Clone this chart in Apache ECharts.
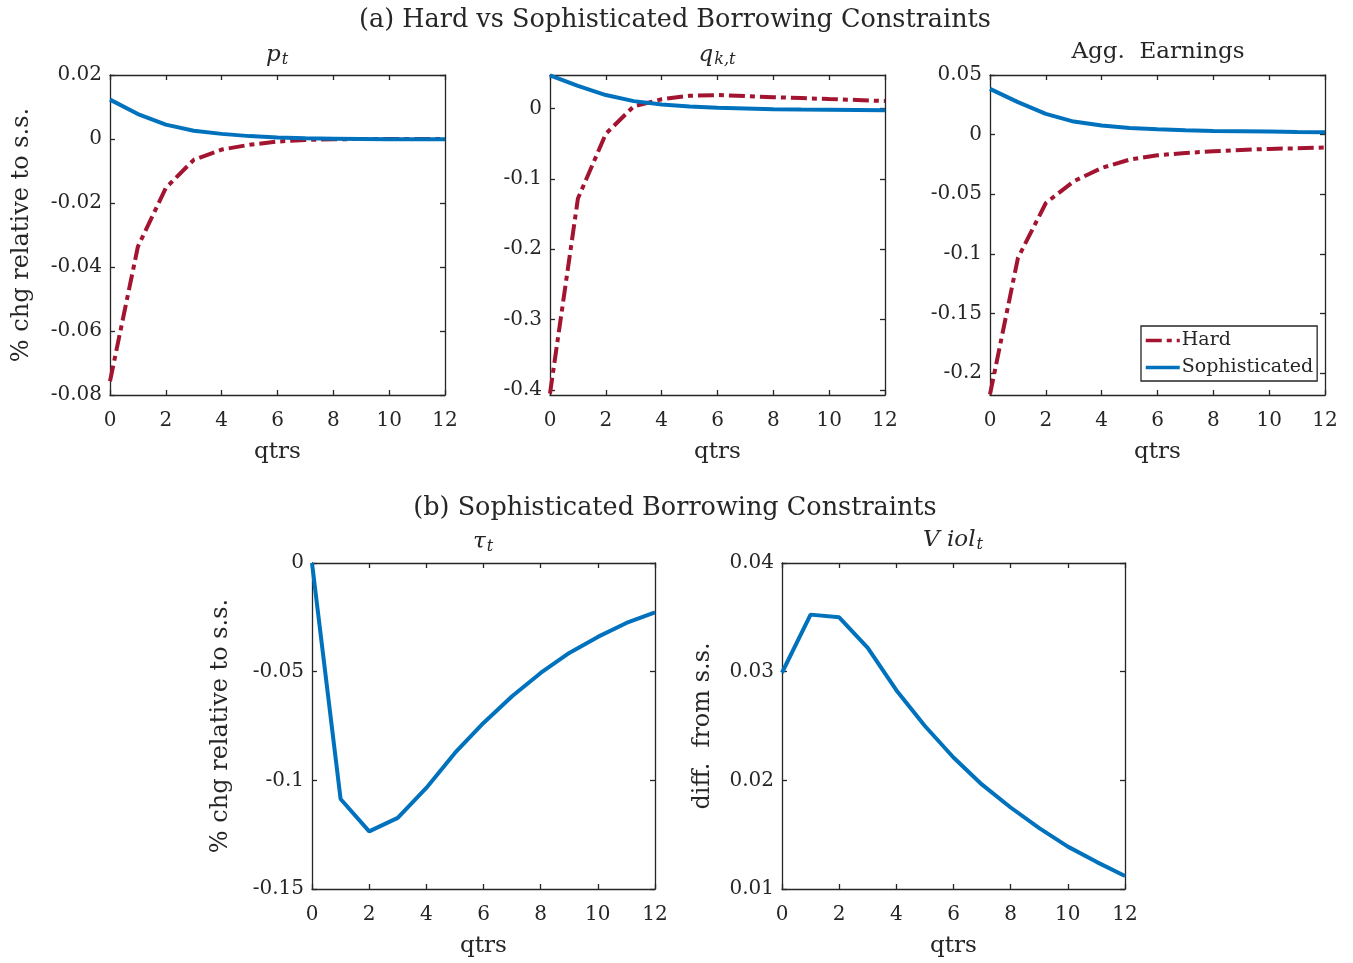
<!DOCTYPE html>
<html>
<head>
<meta charset="utf-8">
<script src="https://cdn.jsdelivr.net/npm/echarts@6/dist/echarts.min.js"></script>
<style>
html,body{margin:0;padding:0;background:#fff;}
#chart{width:1353px;height:963px;}
</style>
</head>
<body>
<div id="chart"></div>
<script>
// ---- data ----
var quarters = [0,1,2,3,4,5,6,7,8,9,10,11,12];

var pHard = [-0.0757,-0.0336,-0.0153,-0.0065,-0.0033,-0.0018,-0.0008,-0.0003,-0.0001,0,0,0,0];
var pSoph = [0.0123,0.0078,0.0045,0.0026,0.0016,0.0009,0.0005,0.0002,0.0001,0,-0.0001,-0.0001,-0.0001];

var qHard = [-0.405,-0.128,-0.036,0.003,0.013,0.018,0.019,0.0175,0.016,0.0147,0.0133,0.012,0.0104];
var qSoph = [0.047,0.032,0.019,0.0104,0.0057,0.0028,0.001,0,-0.001,-0.0015,-0.0018,-0.0021,-0.0024];

var eHard = [-0.218,-0.1036,-0.0574,-0.0392,-0.028,-0.021,-0.0174,-0.0154,-0.014,-0.0129,-0.012,-0.0115,-0.0109];
var eSoph = [0.0384,0.0272,0.0174,0.0109,0.0076,0.0056,0.0045,0.0036,0.0031,0.0028,0.0025,0.0022,0.002];

var tau  = [0,-0.1086,-0.1235,-0.1173,-0.1035,-0.0874,-0.0736,-0.0613,-0.0506,-0.0414,-0.034,-0.0276,-0.0227];
var viol = [0.0299,0.03525,0.035,0.0322,0.0283,0.025,0.0221,0.0196,0.0175,0.0156,0.0139,0.0125,0.0112];

var xTicks  = [0,2,4,6,8,10,12];
var pTicks  = [-0.08,-0.06,-0.04,-0.02,0,0.02];
var qTicks  = [-0.4,-0.3,-0.2,-0.1,0];
var eTicks  = [-0.2,-0.15,-0.1,-0.05,0,0.05];
var tauTicks  = [-0.15,-0.1,-0.05,0];
var violTicks = [0.01,0.02,0.03,0.04];

var seriesNames = ['Hard','Sophisticated'];
var titles = ['(a) Hard vs Sophisticated Borrowing Constraints','(b) Sophisticated Borrowing Constraints'];

// ---- styling ----
var RED = '#A2142F', BLUE = '#0072BD', AX = '#262626';
var FONT = 'DejaVu Serif';
var LW = 4;

function pair(arr){ return quarters.map(function(q,i){ return [q, arr[i]]; }); }
function fmt(v){ var r = Math.round(v*1e6)/1e6; if (r === 0) return '0'; return String(r); }

var grids = [
  {left:110, top:75,  width:335, height:320},
  {left:550, top:75,  width:335, height:320},
  {left:990, top:75,  width:335, height:320},
  {left:312, top:563, width:343, height:326},
  {left:782, top:563, width:343, height:326}
];
var yCfg = [
  {min:-0.08, max:0.02, ticks:pTicks, name:'% chg relative to s.s.', gap:76},
  {min:-0.407, max:0.0475, ticks:qTicks, name:'', gap:70},
  {min:-0.2185, max:0.05, ticks:eTicks, name:'', gap:70},
  {min:-0.15, max:0, ticks:tauTicks, name:'% chg relative to s.s.', gap:79},
  {min:0.01, max:0.04, ticks:violTicks, name:'diff.  from s.s.', gap:67}
];

var axLine = {show:true, onZero:false, lineStyle:{color:AX, width:1.3}};
var xAxes = [], yAxes = [];
grids.forEach(function(g, i){
  xAxes.push({
    type:'value', gridIndex:i, position:'bottom', min:0, max:12, interval:2,
    name:'qtrs', nameLocation:'middle', nameGap:46,
    nameTextStyle:{fontFamily:FONT, fontSize:23, color:AX},
    axisLine:axLine,
    axisTick:{show:true, inside:true, length:5, customValues:xTicks, lineStyle:{color:AX, width:1.3}},
    axisLabel:{show:true, margin:16, fontFamily:FONT, fontSize:20, color:AX, customValues:xTicks},
    splitLine:{show:false}
  });
  xAxes.push({
    type:'value', gridIndex:i, position:'top', min:0, max:12, interval:2,
    axisLine:axLine,
    axisTick:{show:true, inside:true, length:5, customValues:xTicks, lineStyle:{color:AX, width:1.3}},
    axisLabel:{show:false, customValues:xTicks}, splitLine:{show:false}
  });
  var c = yCfg[i];
  yAxes.push({
    type:'value', gridIndex:i, position:'left', min:c.min, max:c.max,
    name:c.name, nameLocation:'middle', nameGap:c.gap,
    nameTextStyle:{fontFamily:FONT, fontSize:24, color:AX},
    axisLine:axLine,
    axisTick:{show:true, inside:true, length:5, customValues:c.ticks, lineStyle:{color:AX, width:1.3}},
    axisLabel:{show:true, margin:8, fontFamily:FONT, fontSize:20, color:AX, customValues:c.ticks, formatter:fmt},
    splitLine:{show:false}
  });
  yAxes.push({
    type:'value', gridIndex:i, position:'right', min:c.min, max:c.max,
    axisLine:axLine,
    axisTick:{show:true, inside:true, length:5, customValues:c.ticks, lineStyle:{color:AX, width:1.3}},
    axisLabel:{show:false, customValues:c.ticks}, splitLine:{show:false}
  });
});

function line(name, data, gi, color, dashed){
  return {
    type:'line', name:name, xAxisIndex:gi*2, yAxisIndex:gi*2, data:pair(data),
    showSymbol:false, symbol:'none', smooth:false, silent:true,
    lineStyle:{color:color, width:LW, type: dashed ? [16,5,5,5] : 'solid', cap:'butt'},
    itemStyle:{color:color}
  };
}

var series = [
  line(seriesNames[0], pHard, 0, RED, true),
  line(seriesNames[1], pSoph, 0, BLUE, false),
  line(seriesNames[0], qHard, 1, RED, true),
  line(seriesNames[1], qSoph, 1, BLUE, false),
  line(seriesNames[0], eHard, 2, RED, true),
  line(seriesNames[1], eSoph, 2, BLUE, false),
  line('tau', tau, 3, BLUE, false),
  line('viol', viol, 4, BLUE, false)
];

function txt(x, y, text, rich, size){
  return {
    type:'text', x:x, y:y,
    style:{text:text, fontFamily:FONT, fontSize:size||23, fill:AX, align:'center', verticalAlign:'middle', rich:rich||undefined}
  };
}
var mathRich = {
  i:{fontFamily:FONT, fontStyle:'italic', fontSize:23, color:AX},
  s:{fontFamily:FONT, fontStyle:'italic', fontSize:16, color:AX, padding:[10,0,0,1]}
};

var option = {
  animation:false,
  backgroundColor:'#fff',
  grid: grids.map(function(g){ return Object.assign({containLabel:false}, g); }),
  xAxis: xAxes,
  yAxis: yAxes,
  legend:{
    data:seriesNames, orient:'vertical', left:1141, top:326,
    itemWidth:34, itemHeight:14, itemGap:8,
    padding:[5,4,4,3], borderColor:AX, borderWidth:1.3, backgroundColor:'#fff',
    itemStyle:{opacity:0},
    lineStyle:{width:3.5},
    textStyle:{fontFamily:FONT, fontSize:19, color:AX, padding:[0,0,0,-3]}
  },
  graphic:[
    txt(675, 20, titles[0], null, 25.5),
    txt(675, 508, titles[1], null, 25.5),
    txt(277, 55, '{i|p}{s|t}', mathRich),
    txt(717, 55, '{i|q}{s|k,t}', mathRich),
    txt(1158, 52, 'Agg.  Earnings', null, 23),
    txt(483, 542, '{i|τ}{s|t}', mathRich),
    txt(953, 540, '{i|V iol}{s|t}', mathRich)
  ],
  series: series
};

var chart = echarts.init(document.getElementById('chart'), null, {renderer:'canvas'});
chart.setOption(option);
</script>
</body>
</html>
